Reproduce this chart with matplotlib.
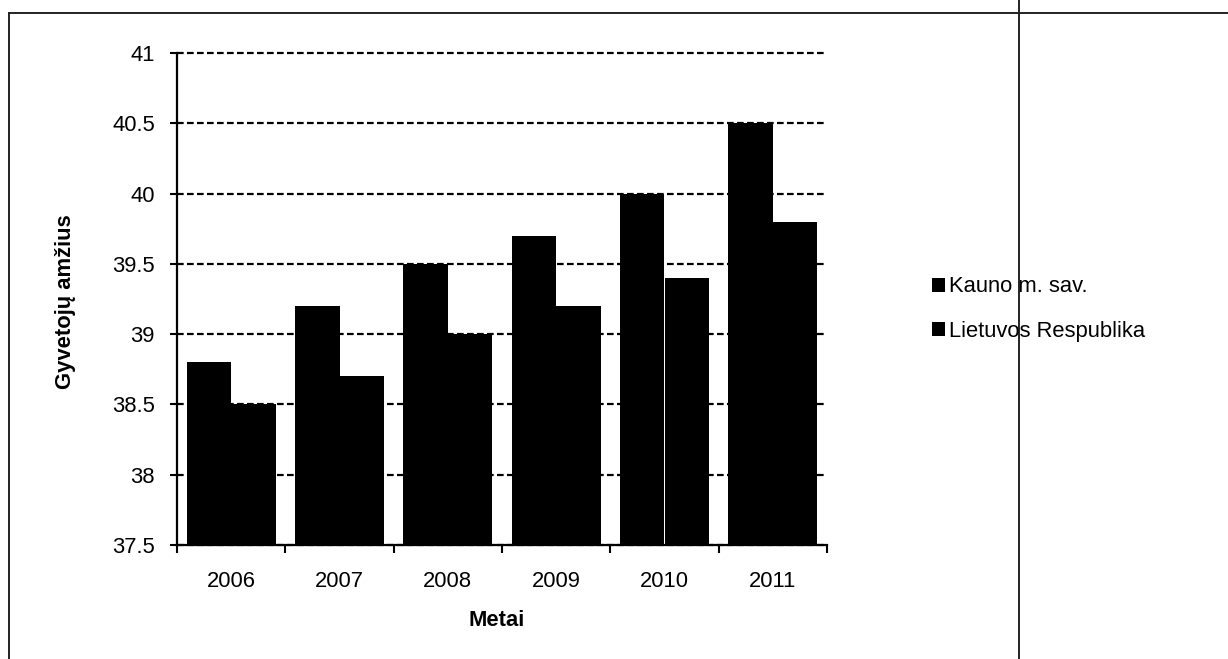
import matplotlib
matplotlib.use('Agg')
import matplotlib.pyplot as plt
from matplotlib.lines import Line2D
import numpy as np

# vidutinis gyventojų amžius
metai = ['2006', '2007', '2008', '2009', '2010', '2011']
kaunas = [38.8, 39.2, 39.5, 39.7, 40.0, 40.5]
lietuva = [38.5, 38.7, 39.0, 39.2, 39.4, 39.8]
serijos = ['Kauno m. sav.', 'Lietuvos Respublika']
y_ticks = [37.5, 38, 38.5, 39, 39.5, 40, 40.5, 41]

plt.rcParams['font.family'] = ['Liberation Sans', 'DejaVu Sans']
fs = 15.8

fig = plt.figure(figsize=(12.28, 6.59), dpi=100)
ax = fig.add_axes([177/1228, 1-545/659, 650/1228, 492/659])

x = np.arange(len(metai))
w = 0.41
b1 = ax.bar(x - w/2, np.array(kaunas) - 37.5, w, bottom=37.5, color='black', label=serijos[0])
b2 = ax.bar(x + w/2, np.array(lietuva) - 37.5, w, bottom=37.5, color='black', label=serijos[1])

ax.set_xlim(-0.5, len(metai) - 0.5)
ax.set_ylim(37.5, 41)
ax.set_yticks(y_ticks)
ax.set_yticklabels([('%g' % v) for v in y_ticks], fontsize=fs)
ax.set_xticks(np.arange(-0.5, len(metai)))
ax.set_xticklabels([])
ax.set_xticks(x, minor=True)
ax.set_xticklabels(metai, minor=True, fontsize=fs)
ax.tick_params(axis='x', which='major', direction='out', length=6, width=1.5)
ax.tick_params(axis='x', which='minor', length=0, pad=19)
ax.tick_params(axis='y', direction='out', length=5, width=1.5, pad=11)

ax.set_axisbelow(True)
ax.yaxis.grid(True, color='black', linewidth=1.6, linestyle=(0, (3, 1.5)))
for gl in ax.get_ygridlines():
    gl.set_clip_on(False)
for s in ['top', 'right']:
    ax.spines[s].set_visible(False)
for s in ['left', 'bottom']:
    ax.spines[s].set_linewidth(1.6)

fig.text(66/1228, 1-302/659, 'Gyvetojų amžius', rotation=90, ha='center', va='center',
         fontsize=fs, fontweight='bold')
fig.text(497/1228, 1-620/659, 'Metai', ha='center', va='center', fontsize=fs, fontweight='bold')

fig.legend(handles=[b1, b2], labels=serijos, loc='center left',
           bbox_to_anchor=(912/1228, 1-309/659), frameon=False, fontsize=fs,
           handlelength=0.6, handleheight=0.6, handletextpad=0.2, labelspacing=1.05)

# remelis aplink diagramą
rem = dict(color='#222222', linewidth=1.4, transform=fig.transFigure)
fig.add_artist(Line2D([9/1228, 9/1228], [0, 1-13/659], **rem))
fig.add_artist(Line2D([9/1228, 1], [1-13/659, 1-13/659], **rem))
fig.add_artist(Line2D([1019/1228, 1019/1228], [0, 1], **rem))

fig.savefig('out.png', dpi=100, facecolor='white')
